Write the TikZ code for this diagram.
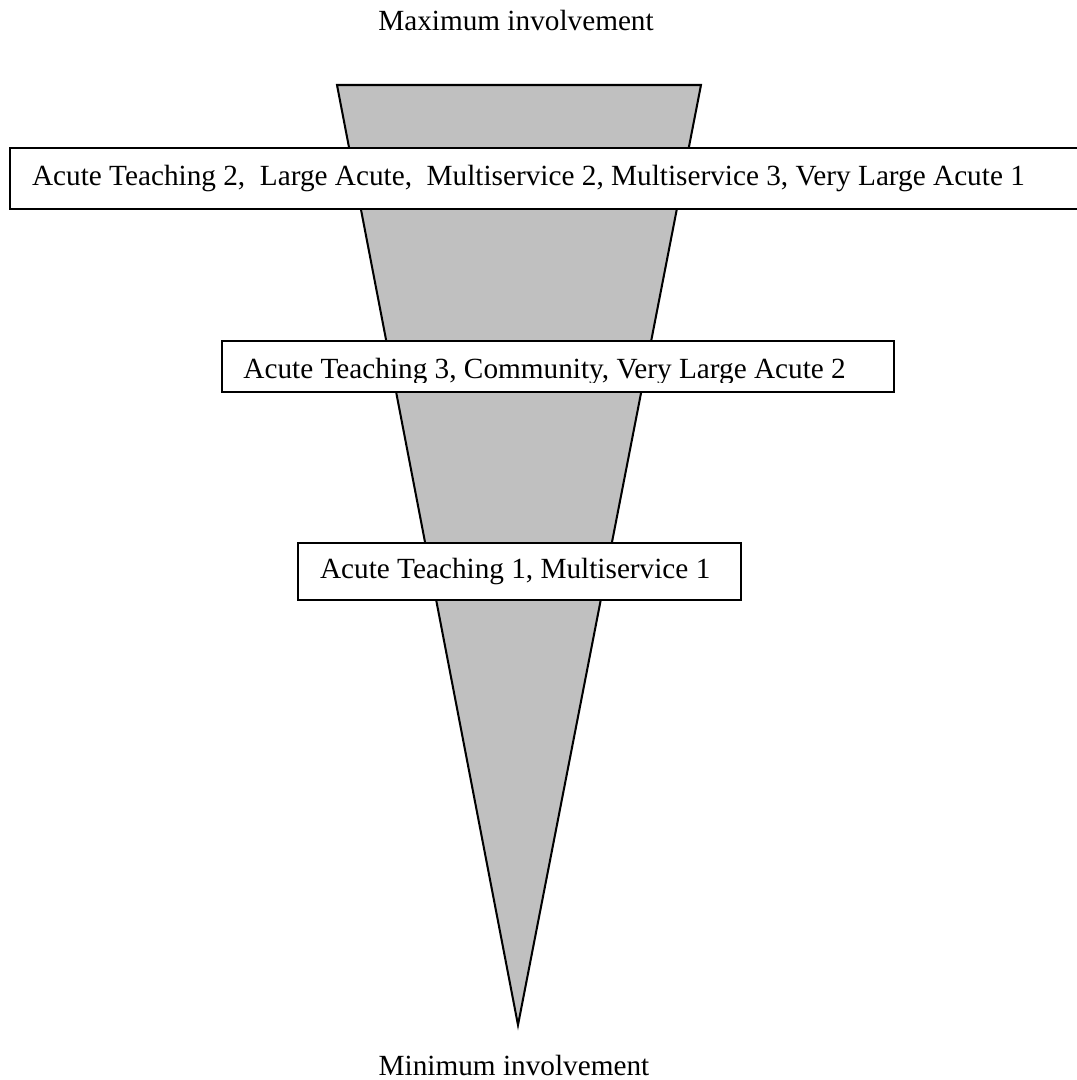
\documentclass[tikz,border=0pt]{standalone}
\usepackage{fontspec}
\setmainfont{Liberation Serif}
\usepackage{tikz}

\definecolor{conegray}{RGB}{192,192,192}

\begin{document}
\begin{tikzpicture}
    [
    x=0.4444pt, y=-0.4444pt,
    every node/.style={font=\fontsize{13pt}{15.6pt}\selectfont},
    band/.style={draw,fill=white,line width=0.9pt,inner xsep=9.8pt,inner ysep=0pt,anchor=north west},
    caption/.style={anchor=base,inner sep=0pt},
    cone/.style={draw,fill=conegray,line width=0.9pt,line join=miter}
    ]
    \useasboundingbox (0,0) rectangle (1077,1080);
    \node (max) at (516,30) [caption] {Maximum involvement};
    \coordinate (tl) at (337,85);
    \coordinate (tr) at (701,85);
    \coordinate (tip) at (518,1025);
    \draw [cone] (tl) -- (tr) -- (tip) -- cycle;
    \node (top) at (9,147) [band,minimum height=27pt] {\makebox[458pt][l]{Acute Teaching 2,\ \ Large Acute,\ \ Multiservice 2, Multiservice 3, Very Large Acute 1}};
    \node (mid) at (221,340) [band,minimum width=298.6pt,minimum height=22.7pt] {};
    \begin{scope}
      \clip (mid.north west) rectangle (893,382);
      \node (midtext) at (243,378) [anchor=base west,inner sep=0pt] {Acute Teaching 3, Community, Very Large Acute 2};
    \end{scope}
    \node (low) at (297,542) [band,minimum height=25.3pt] {\makebox[177.3pt][l]{Acute Teaching 1, Multiservice 1}};
    \node (min) at (514,1075) [caption] {Minimum involvement};
\end{tikzpicture}
\end{document}
